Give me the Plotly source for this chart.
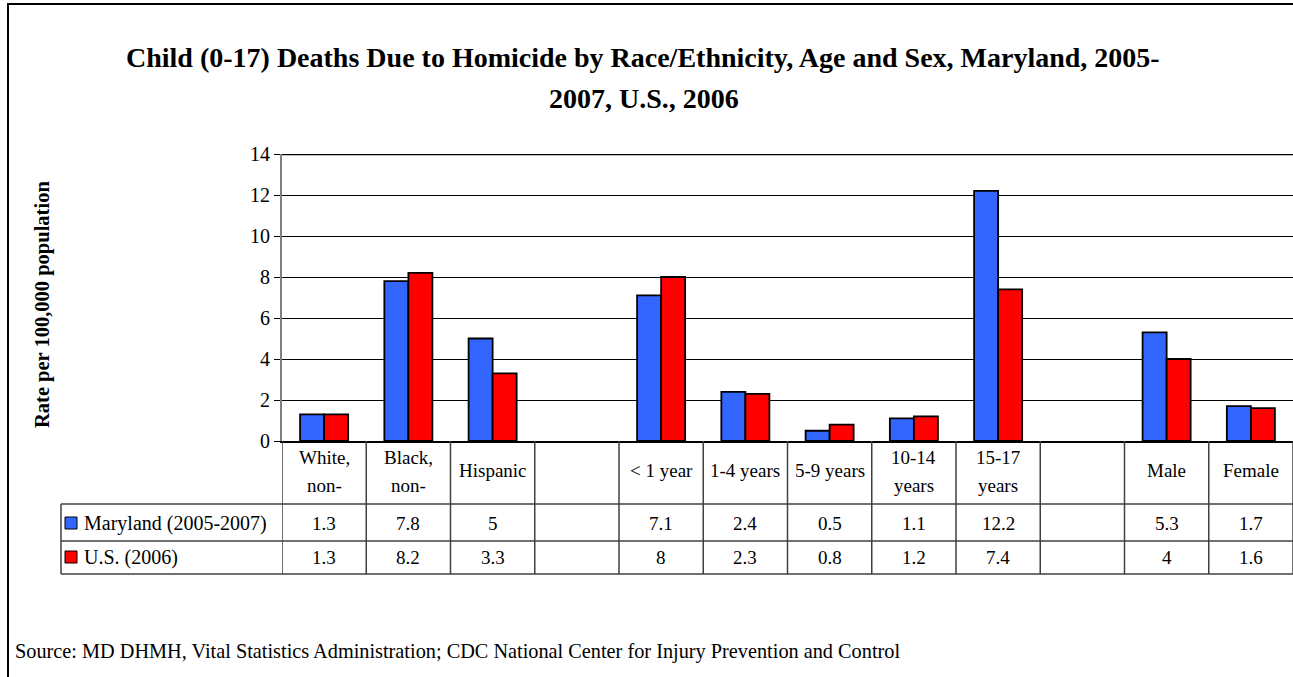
import plotly.graph_objects as go

# ---- data ----
categories = ["White", "Black", "Hispanic", "gap1", "<1", "1-4", "5-9", "10-14", "15-17", "gap2", "Male", "Female"]
header_line1 = ["White,", "Black,", "Hispanic", "", "< 1 year", "1-4 years", "5-9 years", "10-14", "15-17", "", "Male", "Female"]
header_line2 = ["non-", "non-", "", "", "", "", "", "years", "years", "", "", ""]
maryland = [1.3, 7.8, 5, None, 7.1, 2.4, 0.5, 1.1, 12.2, None, 5.3, 1.7]
us = [1.3, 8.2, 3.3, None, 8, 2.3, 0.8, 1.2, 7.4, None, 4, 1.6]
series_names = ["Maryland (2005-2007)", "U.S. (2006)"]
series_values = [maryland, us]
series_colors = ["#3366FF", "#FF0000"]
y_ticks = [0, 2, 4, 6, 8, 10, 12, 14]

W, H = 1293, 677
FONT = "Liberation Serif"

def py(pix):
    return 1 - pix / H

def px(pix):
    return pix / W

fig = go.Figure()
for name, vals, col in zip(series_names, series_values, series_colors):
    fig.add_trace(go.Bar(x=categories, y=vals, name=name, marker_color=col,
                         marker_line_color="black", marker_line_width=1.8))

y_bot, y_top = py(441), py(154)
fig.update_layout(
    width=W, height=H, autosize=False,
    margin=dict(l=0, r=0, t=0, b=0, pad=0, autoexpand=False),
    paper_bgcolor="white", plot_bgcolor="white",
    showlegend=False, barmode="group", bargap=0.43, bargroupgap=0,
    font=dict(family=FONT, color="black"),
    xaxis=dict(domain=[px(282), 1.0], showticklabels=False, showgrid=False, automargin=False,
               type="category", range=[-0.5, len(categories) - 0.5],
               showline=True, linecolor="black", linewidth=2, zeroline=False),
    yaxis=dict(domain=[y_bot, y_top], range=[0, 14], tickvals=y_ticks, automargin=False,
               showgrid=True, gridcolor="black", gridwidth=1,
               showline=True, linecolor="#808080", linewidth=2,
               ticks="outside", ticklen=6, tickcolor="black",
               tickfont=dict(family=FONT, size=20, color="black"), zeroline=False),
)

# plot area top border
fig.add_shape(type="line", xref="paper", yref="y", x0=px(282), x1=1.0, y0=14, y1=14,
              line=dict(color="black", width=2.5))

# title
tfont_title = dict(family=FONT, size=28, color="black")
fig.add_annotation(text="<b>Child (0-17) Deaths Due to Homicide by Race/Ethnicity, Age and Sex, Maryland, 2005-</b>",
                   xref="paper", yref="paper", x=px(643), y=py(57), showarrow=False,
                   font=tfont_title, xanchor="center", yanchor="middle")
fig.add_annotation(text="<b>2007, U.S., 2006</b>",
                   xref="paper", yref="paper", x=px(644), y=py(98), showarrow=False,
                   font=tfont_title, xanchor="center", yanchor="middle")

# y axis title
fig.add_annotation(text="<b>Rate per 100,000 population</b>", textangle=-90,
                   xref="paper", yref="paper", x=px(42), y=py(305), showarrow=False,
                   font=dict(family=FONT, size=20.5, color="black"), xanchor="center", yanchor="middle")

# outer frame
fig.add_shape(type="line", xref="paper", yref="paper", x0=px(8), x1=px(8), y0=0, y1=py(4),
              line=dict(color="black", width=2))
fig.add_shape(type="line", xref="paper", yref="paper", x0=px(7), x1=1.0, y0=py(4), y1=py(4),
              line=dict(color="black", width=2))

# data table
row_lines = [504, 541, 574]
for r in row_lines:
    fig.add_shape(type="line", xref="paper", yref="paper", x0=px(61), x1=1.0, y0=py(r), y1=py(r),
                  line=dict(color="#404040", width=1.5))
fig.add_shape(type="line", xref="paper", yref="paper", x0=px(61), x1=px(61), y0=py(504), y1=py(574),
              line=dict(color="#404040", width=1.5))
for k in range(len(categories) + 1):
    fig.add_shape(type="line", xref="x", yref="paper", x0=k - 0.5, x1=k - 0.5, y0=py(441), y1=py(574),
                  line=dict(color="#404040", width=1.5))

tfont = dict(family=FONT, size=19, color="black")
for i, cat in enumerate(categories):
    l1, l2 = header_line1[i], header_line2[i]
    if l2:
        fig.add_annotation(text=l1, xref="x", yref="paper", x=cat, y=py(457), showarrow=False,
                           font=tfont, xanchor="center", yanchor="middle")
        fig.add_annotation(text=l2, xref="x", yref="paper", x=cat, y=py(485), showarrow=False,
                           font=tfont, xanchor="center", yanchor="middle")
    elif l1:
        fig.add_annotation(text=l1, xref="x", yref="paper", x=cat, y=py(470), showarrow=False,
                           font=tfont, xanchor="center", yanchor="middle")
    for vals, ypix in zip(series_values, [523, 557]):
        if vals[i] is not None:
            fig.add_annotation(text=str(vals[i]), xref="x", yref="paper", x=cat, y=py(ypix),
                               showarrow=False, font=tfont, xanchor="center", yanchor="middle")

# legend keys inside table
for name, col, ypix in zip(series_names, series_colors, [523, 557]):
    fig.add_shape(type="rect", xref="paper", yref="paper", x0=px(65), x1=px(77),
                  y0=py(ypix + 6), y1=py(ypix - 6), fillcolor=col, line=dict(color="black", width=1))
    fig.add_annotation(text=name, xref="paper", yref="paper", x=px(82), y=py(ypix), xanchor="left",
                       yanchor="middle", showarrow=False, font=dict(family=FONT, size=20, color="black"))

# source
fig.add_annotation(text="Source: MD DHMH, Vital Statistics Administration; CDC National Center for Injury Prevention and Control",
                   xref="paper", yref="paper", x=px(13), y=py(651), xanchor="left", yanchor="middle",
                   showarrow=False, font=dict(family=FONT, size=20.3, color="black"))

post = (
    "var d=document.getElementById('{plot_id}');"
    "d.style.position='fixed';d.style.top='0px';d.style.left='0px';"
    "document.documentElement.style.margin='0';document.documentElement.style.overflow='hidden';"
    "document.body.style.margin='0';document.body.style.padding='0';document.body.style.overflow='hidden';"
)
fig.write_html("out.html", config={"displayModeBar": False}, post_script=post)
